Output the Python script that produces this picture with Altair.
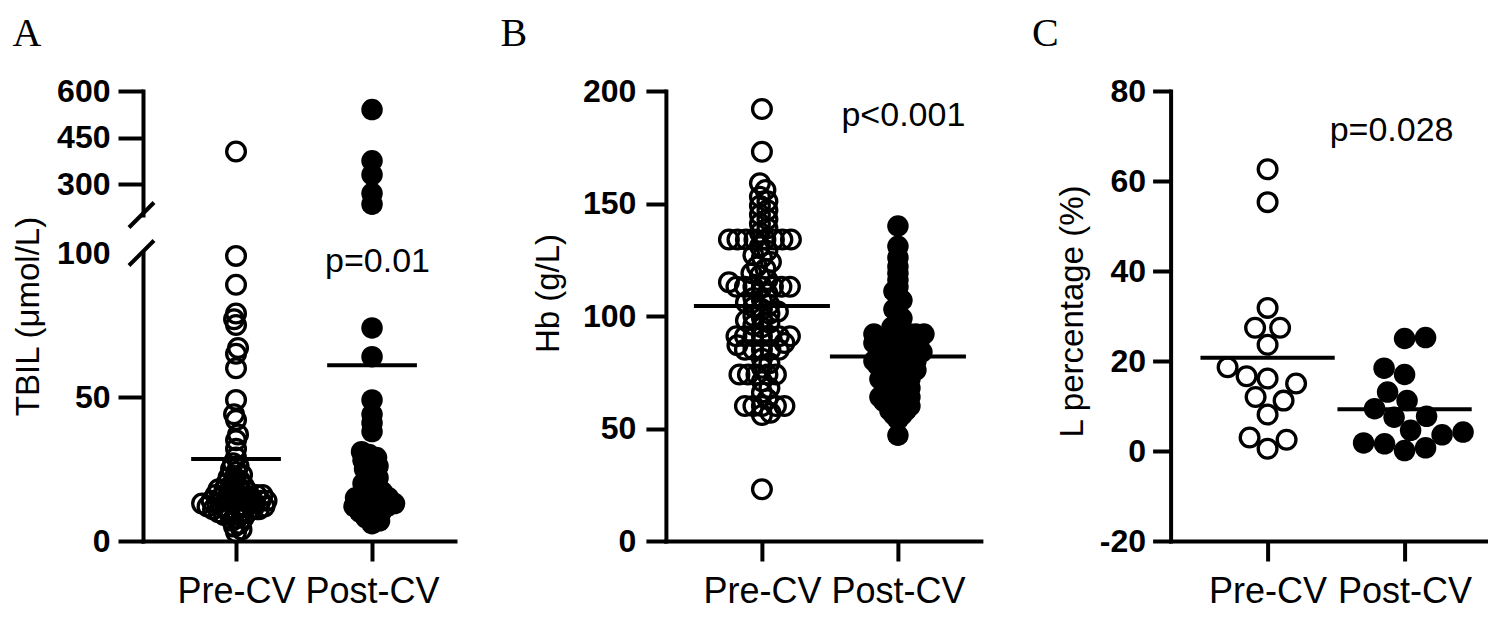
import altair as alt
import pandas as pd

GROUPS = ["Pre-CV", "Post-CV"]

# ---------------- Panel A : TBIL (umol/L), broken axis ----------------
a_pre_high = [405]
a_post_high = [540, 375, 330, 270, 235]
a_pre_low = [99, 89, 79, 77, 75, 67, 65, 60, 49, 44, 42, 37, 35, 32, 29,
             27, 26, 25, 24, 23, 22, 22, 21, 20, 20, 19, 19, 18, 18, 18,
             17, 17, 17, 16, 16, 16, 16, 15, 15, 15, 15, 14, 14, 14, 14, 14,
             13, 13, 13, 13, 13, 12, 12, 12, 12, 12, 11, 11, 11, 11,
             10, 10, 10, 10, 9, 9, 8, 8, 7, 6, 5, 4, 3]
a_post_low = [74, 64, 49, 44, 41, 38, 31, 30, 29, 28, 27, 26, 25, 24, 22, 21,
              20, 19, 18, 17, 16, 16, 15, 15, 14, 14, 13, 13, 12, 12, 12, 11,
              10, 10, 9, 8, 7, 6]
a_means = [28.5, 61.0]
a_ticks_high = [300, 450, 600]
a_ticks_low = [0, 50, 100]
a_p_text = ["p=0.01"]
a_p_pos = [(2.04, 93.4)]

# ---------------- Panel B : Hb (g/L) ----------------
b_pre = [192, 173, 159, 156, 153, 151, 149, 147, 145, 143, 141, 139, 137,
         134, 134, 134, 134, 134, 134, 134, 134,
         131, 129, 127, 126, 124, 122, 121, 119, 118, 116, 115,
         113, 113, 113, 113, 113, 113, 113,
         110, 108, 107, 106, 105, 104, 103,
         102, 101, 100, 99, 98, 97, 96, 95,
         91, 91, 91, 91, 91, 91, 91,
         88, 87, 85, 85, 85, 85, 85, 81, 79, 77,
         74, 74, 74, 74, 74, 71, 68, 66, 63,
         60, 60, 60, 60, 60, 57, 56, 23]
b_post = [140, 131, 126, 122, 119, 116, 113, 111, 109, 107, 105, 103, 101, 99,
          97, 95, 94,
          92, 92, 92, 92, 92, 92, 90, 90, 90, 90, 90, 90,
          88, 88, 88, 88, 88, 86, 86, 86, 86, 86,
          84, 84, 84, 84, 84, 82, 82, 82, 82, 82,
          80, 80, 80, 80, 80, 78, 78, 78, 78, 78,
          76, 76, 76, 76, 74, 74, 74, 74, 72, 72, 72, 72, 70, 70, 70, 70,
          68, 68, 68, 66, 66, 66, 64, 64, 64, 64, 62, 62, 62, 62,
          60, 60, 60, 58, 58, 58, 56, 56, 54, 47]
b_means = [104.5, 82.0]
b_ticks = [0, 50, 100, 150, 200]
b_p_text = ["p<0.001"]
b_p_pos = [(2.04, 184.6)]

# ---------------- Panel C : L percentage (%) ----------------
c_pre = [62.6, 55.3, 31.8, 27.4, 27.4, 23.6, 18.6, 16.6, 15.0, 16.1, 12.0,
         11.2, 8.1, 3.0, 2.5, 0.5]
c_post = [25.2, 25.0, 18.4, 17.0, 13.1, 11.2, 9.4, 7.7, 7.5, 4.6, 4.2, 3.6,
          1.6, 1.8, 0.7, 0.1]
c_means = [20.7, 9.3]
c_ticks = [-20, 0, 20, 40, 60, 80]
c_p_text = ["p=0.028"]
c_p_pos = [(1.905, 69.0)]

# ---------------- layout constants ----------------
H = 450
A_W, B_W, C_W = 312, 315, 317
A_XDOM = [0.316, 2.610]
B_XDOM = [0.294, 2.610]
C_XDOM = [0.292, 2.606]
A_HIGH_DOM, A_HIGH_RANGE = [200, 600], [124, 0]
A_LOW_DOM, A_LOW_RANGE = [0, 100], [450, 162]
B_YDOM = [0, 200]
C_YDOM = [-20, 80]

FONT = "Liberation Sans"
OPEN = dict(shape="circle", filled=False, size=350, strokeWidth=3.3,
            color="black", opacity=1)
FILLED = dict(shape="circle", filled=True, size=462, color="black",
              opacity=1, strokeWidth=0)


def swarm(values, y_ppu, diam, step=0.5):
    ys = [v * y_ppu for v in values]
    order = sorted(range(len(values)), key=lambda i: ys[i])
    placed = []
    xs = [0.0] * len(values)
    flip = 1
    for i in order:
        y = ys[i]
        near = [(px, py) for px, py in placed if abs(py - y) < diam]

        def ok(c):
            return all((c - px) ** 2 + (y - py) ** 2 >= diam * diam
                       for px, py in near)
        k = 0
        chosen = None
        while chosen is None:
            if k == 0:
                if ok(0.0):
                    chosen = 0.0
            else:
                for c in (flip * k * step, -flip * k * step):
                    if ok(c):
                        chosen = c
                        break
            k += 1
        if chosen != 0:
            flip = -flip
        xs[i] = chosen
        placed.append((chosen, y))
    return xs


def swarm_df(values, y_ppu, x_ppu, center, diam):
    offs = swarm(values, y_ppu, diam)
    return pd.DataFrame({"x": [center + o / x_ppu for o in offs],
                         "y": values})


def mean_df(means, half):
    return pd.DataFrame({"x": [1 - half, 2 - half], "x2": [1 + half, 2 + half],
                         "y": means})


def text_df(texts, pos):
    return pd.DataFrame({"x": [p[0] for p in pos], "y": [p[1] for p in pos],
                         "t": texts})


def x_axis():
    return alt.Axis(values=[1, 2],
                    labelExpr="datum.value == 1 ? 'Pre-CV' : 'Post-CV'",
                    tickSize=20, tickWidth=4, domainWidth=4, domainCap="square",
                    domainColor="black", tickColor="black",
                    labelColor="black", labelFont=FONT, labelFontSize=36,
                    labelPadding=13, grid=False)


def y_axis(values, title, tick, lpad, ext, tpad, title_y, **kw):
    args = dict(values=values, orient="left", tickSize=tick, tickWidth=4,
                domainWidth=4, domainCap="square", domainColor="black",
                tickColor="black", labelColor="black", labelFont=FONT,
                labelFontSize=32, labelFontWeight="bold", labelPadding=lpad,
                minExtent=ext, maxExtent=ext, grid=False,
                labelExpr="datum.value < 0 ? '-' + abs(datum.value) : datum.label")
    if title is not None:
        args.update(title=title, titleFont=FONT, titleFontSize=33,
                    titleFontWeight="normal", titleColor="black",
                    titlePadding=tpad, titleY=title_y)
    else:
        args.update(title=None)
    args.update(kw)
    return alt.Axis(**args)


def ptitle(letter, dx):
    return alt.TitleParams(text=letter, anchor="start", frame="bounds",
                           font="Liberation Serif", fontSize=40,
                           fontWeight="normal", color="black", offset=21, dx=dx)


def xenc(dom):
    return alt.X("x:Q", scale=alt.Scale(domain=dom, nice=False, zero=False),
                 axis=x_axis(), title=None)


def panel_layers(pre_df, post_df, m_df, t_df, x, y, extra=None):
    layers = [
        alt.Chart(pre_df).mark_point(**OPEN).encode(x=x, y=y),
        alt.Chart(post_df).mark_point(**FILLED).encode(x=x, y=y),
    ]
    if m_df is not None:
        layers.append(alt.Chart(m_df).mark_rule(color="black", strokeWidth=4)
                      .encode(x=x, x2="x2:Q", y=y))
    if t_df is not None:
        layers.append(alt.Chart(t_df).mark_text(font=FONT, fontSize=34,
                                                color="black", align="center",
                                                baseline="alphabetic")
                      .encode(x=x, y=y, text="t:N"))
    if extra is not None:
        layers.append(extra)
    return alt.layer(*layers)


# ---------------- Panel A ----------------
a_xppu = A_W / (A_XDOM[1] - A_XDOM[0])
a_hppu = (A_HIGH_RANGE[0] - A_HIGH_RANGE[1]) / (A_HIGH_DOM[1] - A_HIGH_DOM[0])
a_lppu = (A_LOW_RANGE[0] - A_LOW_RANGE[1]) / (A_LOW_DOM[1] - A_LOW_DOM[0])
xA = xenc(A_XDOM)
yA_high = alt.Y("y:Q", scale=alt.Scale(domain=A_HIGH_DOM, range=A_HIGH_RANGE,
                                       nice=False, zero=False),
                axis=y_axis(a_ticks_high, None, 25, 8, 90, 7.5, 0))
yA_low = alt.Y("y:Q", scale=alt.Scale(domain=A_LOW_DOM, range=A_LOW_RANGE,
                                      nice=False, zero=False),
               axis=y_axis(a_ticks_low, "TBIL (\u03bcmol/L)", 25, 8, 90, 7.5,
                           225,
                           tickOpacity={"condition": {"test": "datum.value === 100",
                                                      "value": 0},
                                        "value": 1}))


def slash(dom_y, y_ppu):
    return pd.DataFrame({"x": [A_XDOM[0] - 14 / a_xppu],
                         "x2": [A_XDOM[0] + 11 / a_xppu],
                         "y": [dom_y - 12.5 / y_ppu],
                         "y2": [dom_y + 12.5 / y_ppu]})


slash_high = alt.Chart(slash(A_HIGH_DOM[0], a_hppu)).mark_rule(
    color="black", strokeWidth=4).encode(x=xA, x2="x2:Q", y=yA_high, y2="y2:Q")
slash_low = alt.Chart(slash(A_LOW_DOM[1], a_lppu)).mark_rule(
    color="black", strokeWidth=4).encode(x=xA, x2="x2:Q", y=yA_low, y2="y2:Q")

a_high = panel_layers(swarm_df(a_pre_high, a_hppu, a_xppu, 1, 6),
                      swarm_df(a_post_high, a_hppu, a_xppu, 2, 8),
                      None, None, xA, yA_high, slash_high)
a_low = panel_layers(swarm_df(a_pre_low, a_lppu, a_xppu, 1, 6),
                     swarm_df(a_post_low, a_lppu, a_xppu, 2, 8),
                     mean_df(a_means, 0.33), text_df(a_p_text, a_p_pos),
                     xA, yA_low, slash_low)
panel_a = alt.layer(a_high, a_low).resolve_scale(y="independent").properties(
    width=A_W, height=H, title=ptitle("A", 0))

# ---------------- Panel B ----------------
b_xppu = B_W / (B_XDOM[1] - B_XDOM[0])
b_yppu = H / (B_YDOM[1] - B_YDOM[0])
xB = xenc(B_XDOM)
yB = alt.Y("y:Q", scale=alt.Scale(domain=B_YDOM, nice=False, zero=False),
           axis=y_axis(b_ticks, "Hb (g/L)", 20, 10, 88, 12.5, 202))
panel_b = panel_layers(swarm_df(b_pre, b_yppu, b_xppu, 1, 8.5),
                       swarm_df(b_post, b_yppu, b_xppu, 2, 6),
                       mean_df(b_means, 0.5), text_df(b_p_text, b_p_pos),
                       xB, yB).properties(width=B_W, height=H,
                                          title=ptitle("B", -32))

# ---------------- Panel C ----------------
c_xppu = C_W / (C_XDOM[1] - C_XDOM[0])
c_yppu = H / (C_YDOM[1] - C_YDOM[0])
xC = xenc(C_XDOM)
yC = alt.Y("y:Q", scale=alt.Scale(domain=C_YDOM, nice=False, zero=False),
           axis=y_axis(c_ticks, "L percentage (%)", 18, 7, 76, 5.5, 220))
panel_c = panel_layers(swarm_df(c_pre, c_yppu, c_xppu, 1, 21),
                       swarm_df(c_post, c_yppu, c_xppu, 2, 21),
                       mean_df(c_means, 0.49), text_df(c_p_text, c_p_pos),
                       xC, yC).properties(width=C_W, height=H,
                                          title=ptitle("C", -24))

chart = alt.hconcat(
    alt.hconcat(panel_a, panel_b, spacing=44.9),
    panel_c, spacing=50.6,
).properties(
    padding={"left": 4, "top": 6, "right": 0, "bottom": 0},
    background="white",
).configure_view(strokeWidth=0)

chart.save("out.html", embed_options={"renderer": "svg", "actions": False})
